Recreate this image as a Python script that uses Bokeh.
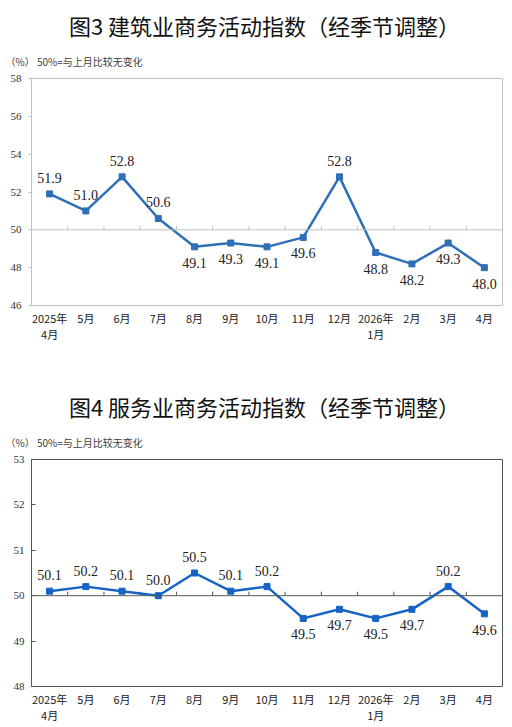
import math
from bokeh.plotting import figure
from bokeh.layouts import column
from bokeh.models import ColumnDataSource, FactorRange, Range1d, FixedTicker, Span, Title
from bokeh.transform import dodge
from bokeh.embed import file_html
from bokeh.resources import INLINE

months = ["2025年\n4月", "5月", "6月", "7月", "8月", "9月", "10月", "11月",
          "12月", "2026年\n1月", "2月", "3月", "4月"]
construction = [51.9, 51.0, 52.8, 50.6, 49.1, 49.3, 49.1, 49.6, 52.8, 48.8, 48.2, 49.3, 48.0]
services = [50.1, 50.2, 50.1, 50.0, 50.5, 50.1, 50.2, 49.5, 49.7, 49.5, 49.7, 50.2, 49.6]

title3 = "图3  建筑业商务活动指数（经季节调整）"
title4 = "图4  服务业商务活动指数（经季节调整）"
note = "（%）  50%=与上月比较无变化"

CJK = "Noto Sans CJK SC"
SERIF = "Liberation Serif"


def make_chart(title, values, y_lo, y_hi, y_step, height, frame_color, line_color,
               tick_in, tick_out, borders):
    left, right, top, bottom = borders
    p = figure(width=512, height=height, x_range=FactorRange(factors=months),
               y_range=Range1d(y_lo, y_hi), output_backend="svg", toolbar_location=None,
               min_border_left=left, min_border_right=right,
               min_border_bottom=bottom, min_border_top=top)
    p.title = None
    p.add_layout(Title(text=note, text_font=CJK, text_font_size="10px", text_font_style="normal",
                       text_color="#404040", align="left", offset=-26, standoff=20), "above")
    p.add_layout(Title(text=title, text_font=CJK, text_font_size="22px", text_font_style="normal",
                       text_color="#111111", align="center", standoff=2), "above")

    p.grid.visible = False
    p.outline_line_color = frame_color
    p.outline_line_width = 1
    p.background_fill_color = "white"
    p.border_fill_color = "white"

    p.yaxis.ticker = FixedTicker(ticks=list(range(y_lo, y_hi + 1, y_step)))
    p.yaxis.axis_line_color = frame_color
    p.yaxis.major_tick_line_color = frame_color
    p.yaxis.major_tick_in = tick_in
    p.yaxis.major_tick_out = tick_out
    p.yaxis.minor_tick_line_color = None
    p.yaxis.major_label_text_font = SERIF
    p.yaxis.major_label_text_font_size = "11px"
    p.yaxis.major_label_text_color = "#333333"
    p.yaxis.major_label_standoff = 7

    p.xaxis.axis_line_color = None
    p.xaxis.major_tick_line_color = None
    p.xaxis.minor_tick_line_color = None
    p.xaxis.major_tick_out = 0
    p.xaxis.major_label_text_font = CJK
    p.xaxis.major_label_text_font_size = "11px"
    p.xaxis.major_label_text_color = "#222222"
    p.xaxis.major_label_text_line_height = 1.0
    p.xaxis.major_label_standoff = 4

    # 50% reference line with small ticks between months
    p.add_layout(Span(location=50, dimension="width", line_color=frame_color, line_width=1))
    bounds = ColumnDataSource(dict(m=months[1:], y=[50] * (len(months) - 1)))
    p.ray(x=dodge("m", -0.5, range=p.x_range), y="y", length=4, length_units="screen",
          angle=math.pi / 2, line_color=frame_color, line_width=1, source=bounds)

    src = ColumnDataSource(dict(
        m=months, v=values,
        txt=[f"{v:.1f}" for v in values],
        off=[-16 if v >= 50 else 16 for v in values],
    ))
    p.line("m", "v", source=src, line_color=line_color, line_width=2.5)
    p.scatter("m", "v", source=src, marker="square", size=6, fill_color=line_color,
              line_color=line_color)
    p.text("m", "v", text="txt", y_offset="off", source=src, text_align="center",
           text_baseline="middle", text_font=SERIF, text_font_size="14px", text_color="#222222")
    return p


p3 = make_chart(title3, construction, 46, 58, 2, 386, "#c0c0c0", "#2e6fb7",
                0, 3, (30, 9, 78, 81))
p4 = make_chart(title4, services, 48, 53, 1, 341, "#555555", "#1563c4",
                4, 0, (31, 10, 60, 41))

p = column(p3, p4, spacing=0)
open("out.html", "w").write(file_html(p, INLINE))
